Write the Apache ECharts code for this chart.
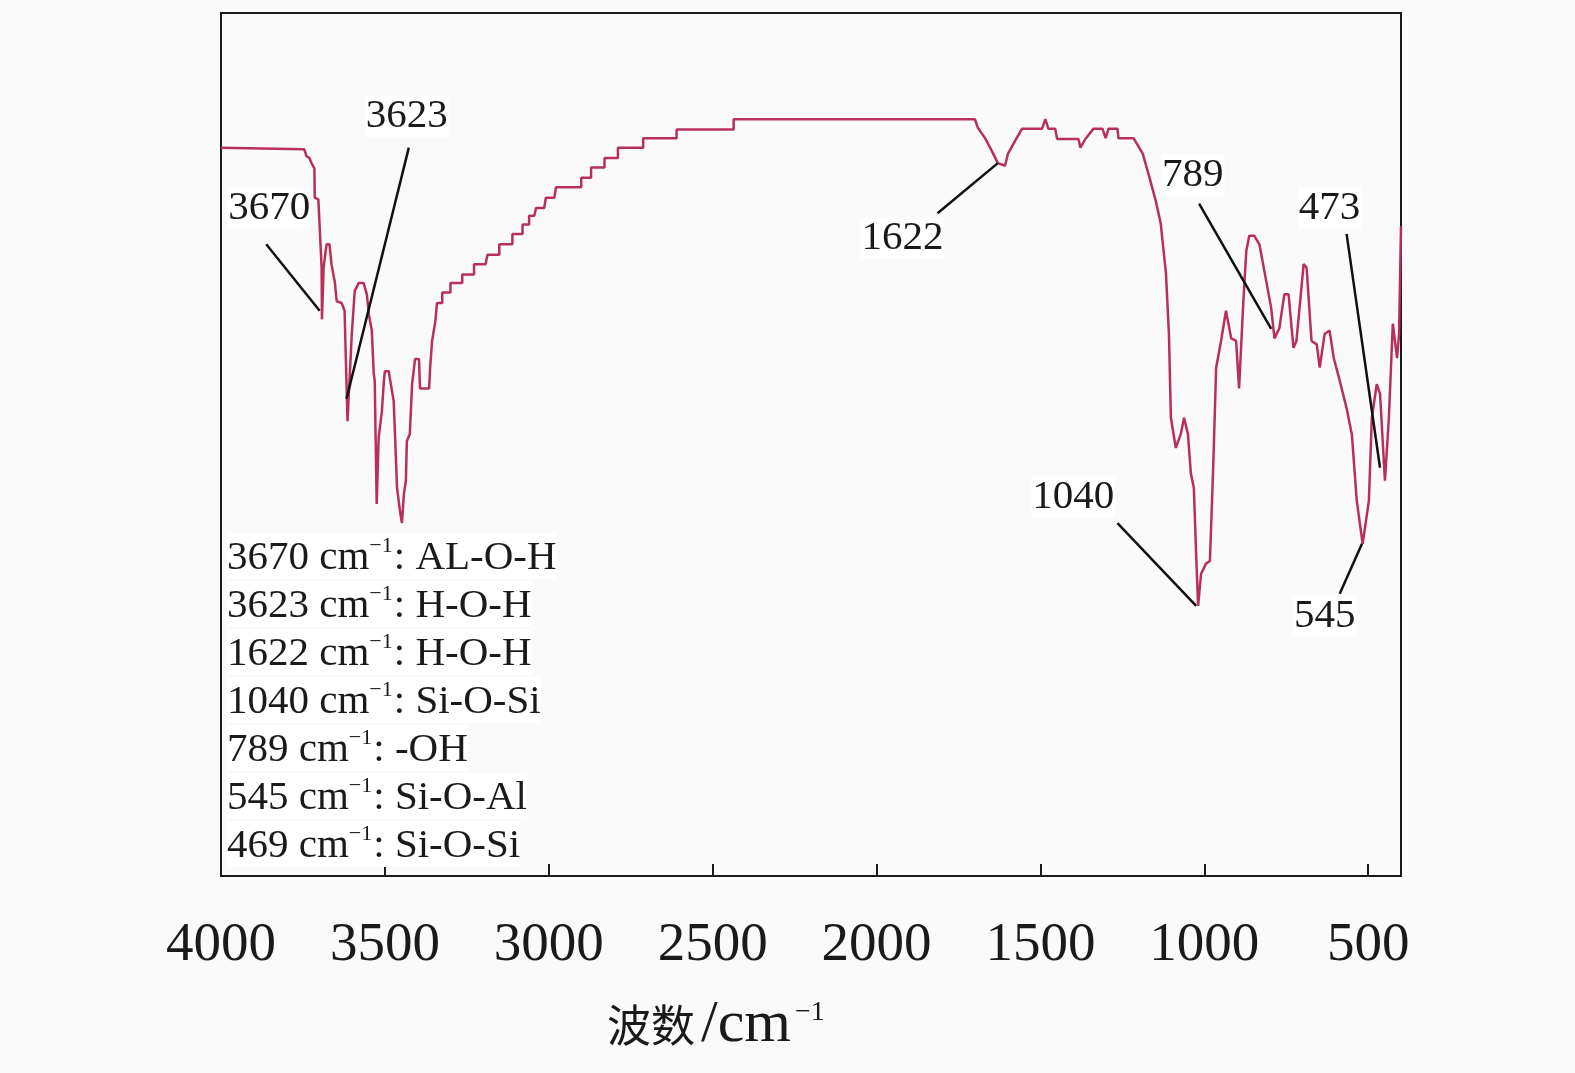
<!DOCTYPE html>
<html>
<head>
<meta charset="utf-8">
<script src="https://cdn.jsdelivr.net/npm/echarts@6/dist/echarts.min.js"></script>
<style>html,body{margin:0;padding:0;background:#fafafa;}#c{width:1575px;height:1073px;}</style>
</head>
<body>
<div id="c"></div>
<script>
// wavenumber (cm-1)
const wavenumbers = [4000,3746,3739,3730,3724,3715,3714,3703,3693,3692,3687,3678,3669,3663,3653,3647,3632,3623,3614,3601,3592,3580,3565,3555,3549,3540,3534,3531,3525,3519,3509,3503,3500,3488,3485,3473,3463,3454,3448,3442,3436,3433,3424,3417,3408,3396,3393,3365,3362,3356,
  3346,3341,3325,3325,3300,3300,3264,3264,3228,3228,3193,3187,3151,3151,3111,3111,3080,3080,3060,3060,3044,3039,3014,3009,2983,2978,2901,2901,2871,2871,2830,2830,2789,2789,2712,2712,2610,2610,2436,2436,
  1700,1691,1669,1648,1630,1608,1599,1577,1556,1495,1485,1476,1455,1449,1384,1378,1363,1338,1311,1301,1292,1265,1262,1216,1188,1170,1148,1133,1117,1108,1102,1087,1072,1062,1050,1041,1032,1025,1019,1010,995,983,973,964,949,934,918,903,894,881,872,863,848,832,811,796,786,771,756,743,728,719,697,688,673,657,648,633,618,605,587,566,550,535,517,498,489,474,464,449,437,425,412,406,400];
// relative transmittance (arbitrary units)
const transmittance = [84.4,84.2,83.4,83.2,82.6,82.0,78.6,78.4,70.5,64.5,70.5,73.2,73.2,70.9,68.9,66.6,66.4,65.5,52.7,62.8,67.8,68.7,68.7,67.4,65.1,63.2,58.2,57.4,43.1,50.8,53.9,57.4,58.5,58.5,57.7,55.0,45.0,42.3,40.9,44.3,45.8,50.4,51.2,57.0,59.9,59.9,56.5,56.5,58.9,62.0,
  64.3,66.4,66.4,67.6,67.6,68.7,68.7,69.7,69.7,70.9,70.9,72.0,72.0,73.2,73.2,74.4,74.4,75.5,75.5,76.5,76.5,77.4,77.4,78.6,78.6,79.8,79.8,80.9,80.9,82.1,82.1,83.2,83.2,84.4,84.4,85.5,85.5,86.5,86.5,87.7,
  87.7,86.7,85.5,84.0,82.6,82.3,83.7,85.2,86.6,86.6,87.7,86.6,86.6,85.4,85.4,84.4,85.4,86.6,86.6,85.5,86.6,86.6,85.5,85.5,83.7,81.3,78.2,75.6,69.8,62.8,53.1,49.6,51.2,53.1,51.2,46.6,45.0,37.3,31.3,35.0,36.2,36.5,47.3,58.9,62.0,65.5,62.3,62.0,56.5,66.6,72.4,74.2,74.2,73.2,68.9,65.8,62.3,63.5,67.4,67.4,61.2,62.0,70.9,70.5,62.0,61.6,58.9,62.8,63.2,60.0,57.4,54.2,51.2,43.5,38.5,43.5,53.1,57.0,55.9,45.8,53.1,64.0,60.0,62.8,75.3];
// x-axis tick labels
const tickValues = [4000,3500,3000,2500,2000,1500,1000,500];
// peak annotation texts and their anchors (data coords)
const peakLabels = ['3670','3623','1622','789','473','1040','545'];
const labelAnchorW = [3853,3433,1921,1035,618,1400,633];
const labelAnchorT = [77.4,88.0,73.9,81.2,77.4,43.9,30.1];
const leaderStartW = [3862,3427,1814,1016,566,1265,587];
const leaderStartT = [73.2,84.4,76.8,77.9,74.4,40.9,32.7];
const leaderEndW = [3699,3617,1630,796,464,1025,519];
const leaderEndT = [65.5,55.3,82.6,63.4,47.3,31.3,38.5];
// assignment notes
const noteWave = ['3670','3623','1622','1040','789','545','469'];
const noteGroup = ['AL-O-H','H-O-H','H-O-H','Si-O-Si','-OH','Si-O-Al','Si-O-Si'];

const serif = '"Liberation Serif","Times New Roman",serif';
const chart = echarts.init(document.getElementById('c'));
const series = wavenumbers.map((w,i)=>[w, transmittance[i]]);

const markPts = peakLabels.map((t,i)=>({
  coord:[labelAnchorW[i], labelAnchorT[i]],
  symbol:'rect', symbolSize:1, itemStyle:{color:'rgba(0,0,0,0)'},
  label:{show:true, position:'inside', formatter:t, fontFamily:serif, fontSize:41, color:'#1a1a1a', backgroundColor:'#fff', padding:[0,1]}
}));
const markLns = peakLabels.map((t,i)=>[
  {coord:[leaderStartW[i], leaderStartT[i]]},
  {coord:[leaderEndW[i], leaderEndT[i]]}
]);

const noteGraphics = noteWave.map((w,i)=>({
  type:'text', left:227, top:533 + i*48, z:10,
  style:{
    rich:{
      n:{fontFamily:serif, fontSize:41, fill:'#1a1a1a', lineHeight:46, verticalAlign:'bottom'},
      s:{fontFamily:serif, fontSize:22, fill:'#1a1a1a', lineHeight:46, verticalAlign:'top', padding:[2,1,0,0]}
    },
    text:'{n|' + w + ' cm}{s|−1}{n|: ' + noteGroup[i] + '}',
    backgroundColor:'#fff'
  }
}));

noteGraphics.push({
  type:'text', left:607, top:995, z:10,
  style:{
    rich:{
      c:{fontFamily:'"Noto Sans CJK SC",sans-serif', fontSize:44, fill:'#1a1a1a', lineHeight:60, verticalAlign:'middle'},
      t:{fontFamily:serif, fontSize:60, fill:'#1a1a1a', lineHeight:60, verticalAlign:'middle', padding:[0,0,0,6]},
      s:{fontFamily:serif, fontSize:28, fill:'#1a1a1a', lineHeight:60, verticalAlign:'top', padding:[4,0,0,4]}
    },
    text:'{c|波数}{t|/cm}{s|−1}'
  }
});

chart.setOption({
  animation:false,
  backgroundColor:'#fafafa',
  grid:{left:221, right:174, top:13, bottom:197, show:true, borderColor:'#1a1a1a', borderWidth:2, backgroundColor:'transparent'},
  xAxis:{
    type:'value', inverse:true, min:400, max:4000,
    axisLine:{show:true, lineStyle:{color:'#1a1a1a', width:2}},
    axisTick:{show:true, inside:true, length:12, customValues:tickValues, lineStyle:{color:'#1a1a1a', width:2}},
    axisLabel:{margin:42, fontFamily:serif, fontSize:55, color:'#1a1a1a', customValues:tickValues,
      formatter:v=> tickValues.indexOf(v) >= 0 ? String(v) : ''},
    splitLine:{show:false}
  },
  yAxis:{
    type:'value', min:0, max:100,
    axisLine:{show:true, lineStyle:{color:'#1a1a1a', width:2}},
    axisTick:{show:false}, axisLabel:{show:false}, splitLine:{show:false}
  },
  graphic:noteGraphics,
  series:[{
    type:'line', data:series, showSymbol:false, smooth:false,
    lineStyle:{color:'#b8305a', width:2.5},
    markLine:{silent:true, symbol:['none','none'], label:{show:false},
      lineStyle:{color:'#111', width:2.5, type:'solid'}, data:markLns},
    markPoint:{silent:true, data:markPts}
  }]
});
</script>
</body>
</html>
